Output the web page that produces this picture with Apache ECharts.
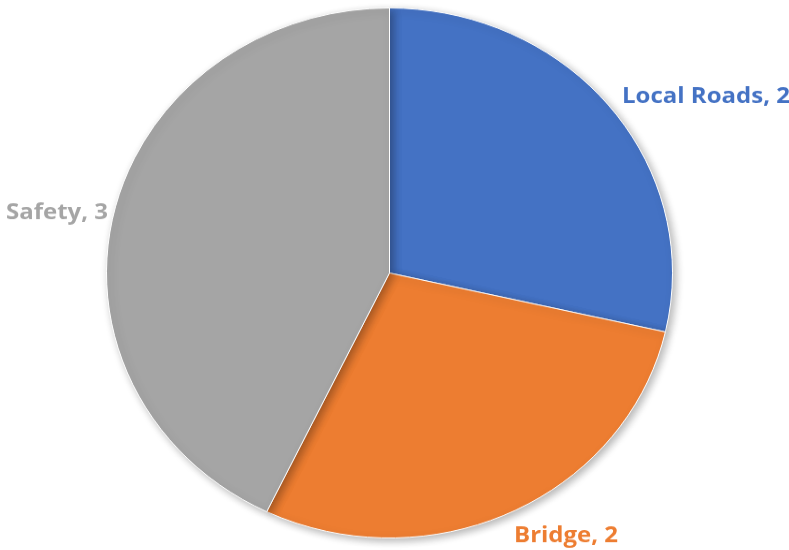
<!DOCTYPE html>
<html><head><meta charset="utf-8">
<script src="https://cdn.jsdelivr.net/npm/echarts@6/dist/echarts.min.js"></script>
<style>
html,body{margin:0;padding:0;background:#fff;overflow:hidden}
#wrap{width:789px;height:550px;overflow:hidden;position:relative}
#c{width:789px;height:587.4px;transform:scaleY(0.93640);transform-origin:0 0}
</style>
</head><body><div id="wrap"><div id="c"></div></div>
<script>
var categories = ['Local Roads', 'Bridge', 'Safety'];
var values = [2, 2, 3];
var colors = ['#4472C4', '#ED7D31', '#A5A5A5'];
var labelPos = [
  {x: 622, y: 103.6, align: 'left'},
  {x: 514, y: 572.4, align: 'left'},
  {x: 108, y: 227.5, align: 'right'}
];
var chart = echarts.init(document.getElementById('c'));
chart.setOption({
  animation: false,
  series: [{
    type: 'pie',
    center: [389.5, 291.5],
    radius: 283,
    startAngle: 90,
    clockwise: true,
    data: categories.map(function (n, i) {
      return {name: n, value: values[i], itemStyle: {color: colors[i]}, label: {color: colors[i]}};
    }),
    itemStyle: {borderColor: '#fff', borderWidth: 1, shadowBlur: 8, shadowColor: 'rgba(0,0,0,0.3)', shadowOffsetX: 3, shadowOffsetY: 3},
    label: {
      show: true, position: 'outside', overflow: 'none',
      formatter: '{b}, {c}',
      fontFamily: 'Open Sans', fontWeight: 'bold', fontSize: 24
    },
    labelLine: {show: false},
    labelLayout: function (p) {
      var l = labelPos[p.dataIndex];
      return {x: l.x, y: l.y, align: l.align, verticalAlign: 'middle'};
    }
  }]
});
</script></body></html>
